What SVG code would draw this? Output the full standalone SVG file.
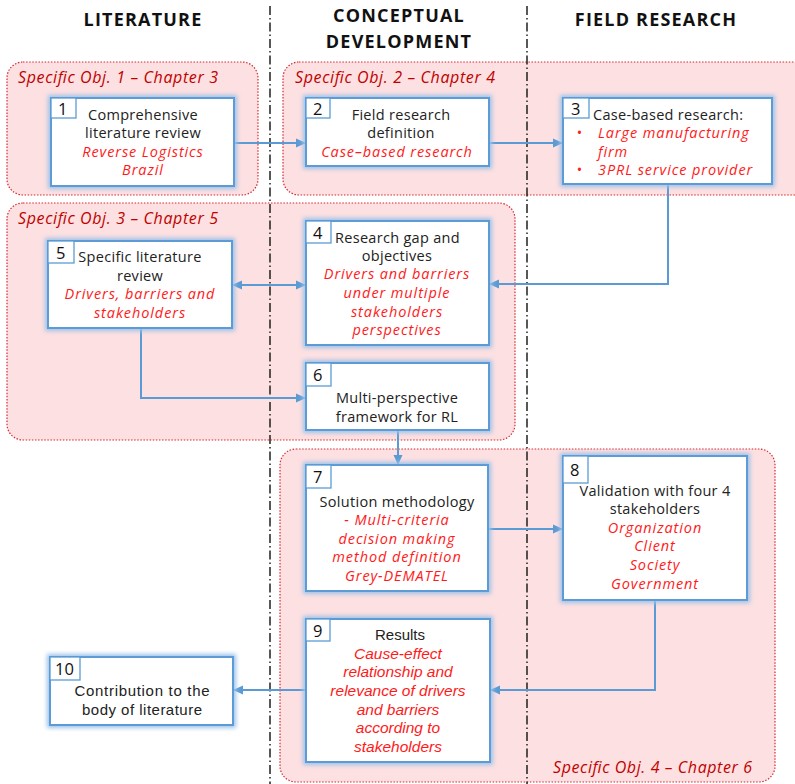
<svg xmlns="http://www.w3.org/2000/svg" width="795" height="784" viewBox="0 0 795 784">
  <style>
    .head { font-family: "Open Sans", "Noto Sans", sans-serif; font-weight: bold; font-size: 18px; letter-spacing: 1.2px; fill: #111; text-anchor: middle; }
    .zone { fill: #fde0e1; stroke: #d9272e; stroke-width: 1.2; stroke-dasharray: 1.5 1.6; }
    .zlabel { font-family: "Open Sans", "Noto Sans", sans-serif; font-style: italic; font-size: 16px; fill: #c00000; }
    .lane { stroke: #111; stroke-width: 1.4; stroke-dasharray: 9 3 1.5 3; fill: none; }
    .box { fill: #fff; stroke: #5b9bd5; stroke-width: 2; }
    .num { fill: #fff; stroke: #5b9bd5; stroke-width: 1.3; }
    .nt { font-family: "Open Sans", "Noto Sans", sans-serif; font-size: 16.5px; fill: #111; }
    .t { font-family: "Open Sans", "Noto Sans", sans-serif; font-size: 14.5px; letter-spacing: 0.3px; fill: #222; text-anchor: middle; }
    .r { font-family: "Open Sans", "Noto Sans", sans-serif; font-size: 14.5px; letter-spacing: 0.9px; font-style: italic; fill: #ff1a1a; text-anchor: middle; }
    .tn { font-family: "Liberation Sans", Arial, sans-serif; font-size: 15px; fill: #222; text-anchor: middle; }
    .rn { font-family: "Liberation Sans", Arial, sans-serif; font-size: 15.5px; font-style: italic; fill: #ff1a1a; text-anchor: middle; }
    .conn { fill: none; stroke: #5b9bd5; stroke-width: 2; }
  </style>
  <defs>
    <filter id="glow" x="-10%" y="-10%" width="120%" height="120%">
      <feMorphology in="SourceAlpha" operator="dilate" radius="2" result="d"/>
      <feGaussianBlur in="d" stdDeviation="2" result="b"/>
      <feFlood flood-color="#9cc3ea"/>
      <feComposite in2="b" operator="in" result="g"/>
      <feMerge><feMergeNode in="g"/><feMergeNode in="SourceGraphic"/></feMerge>
    </filter>
    <marker id="arr" viewBox="0 0 10 10" refX="9" refY="5" markerWidth="5.5" markerHeight="5" orient="auto-start-reverse">
      <path d="M0,0.5 L10,5 L0,9.5 z" fill="#5b9bd5"/>
    </marker>
  </defs>

  <!-- column headings -->
  <text class="head" x="143" y="26">LITERATURE</text>
  <text class="head" x="399" y="22">CONCEPTUAL</text>
  <text class="head" x="399" y="48">DEVELOPMENT</text>
  <text class="head" x="656" y="26">FIELD RESEARCH</text>

  <!-- objective zones -->
  <g id="zones">
    <rect class="zone" x="7" y="62" width="251" height="133" rx="16"/>
    <rect class="zone" x="283" y="62" width="530" height="133" rx="16"/>
    <rect class="zone" x="7" y="203" width="508" height="237" rx="16"/>
    <rect class="zone" x="280" y="449" width="495" height="333" rx="16"/>
    <text class="zlabel" x="18" y="83" textLength="200">Specific Obj. 1 – Chapter 3</text>
    <text class="zlabel" x="295" y="83" textLength="200">Specific Obj. 2 – Chapter 4</text>
    <text class="zlabel" x="18" y="224" textLength="200">Specific Obj. 3 – Chapter 5</text>
    <text class="zlabel" x="553" y="773" textLength="199">Specific Obj. 4 – Chapter 6</text>
  </g>

  <!-- lane separators -->
  <line class="lane" x1="270" y1="6" x2="270" y2="784"/>
  <line class="lane" x1="527" y1="6" x2="527" y2="784"/>

  <!-- connectors -->
  <g id="connectors">
    <path class="conn" d="M234,143 H305" marker-end="url(#arr)"/>
    <path class="conn" d="M489,143 H562" marker-end="url(#arr)"/>
    <path class="conn" d="M668,184 V284 H490" marker-end="url(#arr)"/>
    <path class="conn" d="M233,285 H305" marker-start="url(#arr)" marker-end="url(#arr)"/>
    <path class="conn" d="M141,328 V398 H305" marker-end="url(#arr)"/>
    <path class="conn" d="M398,430 V464" marker-end="url(#arr)"/>
    <path class="conn" d="M488,529 H562" marker-end="url(#arr)"/>
    <path class="conn" d="M655,600 V690 H491" marker-end="url(#arr)"/>
    <path class="conn" d="M306,690 H234" marker-end="url(#arr)"/>
  </g>

  <g id="n1">
    <rect class="box" x="51" y="98" width="183" height="88" filter="url(#glow)"/>
    <rect class="num" x="51" y="98" width="25" height="20"/>
    <text class="nt" x="58" y="115">1</text>
    <text class="t" x="143" y="120">Comprehensive</text>
    <text class="t" x="143" y="138">literature review</text>
    <text class="r" x="143" y="157">Reverse Logistics</text>
    <text class="r" x="143" y="175">Brazil</text>
  </g>

  <g id="n2">
    <rect class="box" x="306" y="98" width="183" height="68" filter="url(#glow)"/>
    <rect class="num" x="306" y="98" width="24" height="20"/>
    <text class="nt" x="313" y="115">2</text>
    <text class="t" x="401" y="120">Field research</text>
    <text class="t" x="401" y="138">definition</text>
    <text class="r" x="397" y="157">Case–based research</text>
  </g>

  <g id="n3">
    <rect class="box" x="563" y="98" width="209" height="86" filter="url(#glow)"/>
    <rect class="num" x="563" y="98" width="26" height="20"/>
    <text class="nt" x="571" y="115">3</text>
    <text class="t" x="593" y="120" style="text-anchor:start">Case-based research:</text>
    <text class="r" x="580" y="138" style="font-style:normal">•</text>
    <text class="r" x="598" y="138" style="text-anchor:start">Large manufacturing</text>
    <text class="r" x="598" y="157" style="text-anchor:start">firm</text>
    <text class="r" x="580" y="175" style="font-style:normal">•</text>
    <text class="r" x="598" y="175" style="text-anchor:start">3PRL service provider</text>
  </g>

  <g id="n4">
    <rect class="box" x="306" y="221" width="183" height="124" filter="url(#glow)"/>
    <rect class="num" x="306" y="221" width="25" height="22"/>
    <text class="nt" x="313" y="239">4</text>
    <text class="t" x="335" y="243" style="text-anchor:start">Research gap and</text>
    <text class="t" x="397" y="261">objectives</text>
    <text class="r" x="397" y="279">Drivers and barriers</text>
    <text class="r" x="397" y="298">under multiple</text>
    <text class="r" x="397" y="317">stakeholders</text>
    <text class="r" x="397" y="335">perspectives</text>
  </g>

  <g id="n5">
    <rect class="box" x="48" y="241" width="184" height="87" filter="url(#glow)"/>
    <rect class="num" x="48" y="241" width="26" height="22"/>
    <text class="nt" x="56" y="259">5</text>
    <text class="t" x="140" y="262">Specific literature</text>
    <text class="t" x="140" y="281">review</text>
    <text class="r" x="140" y="299">Drivers, barriers and</text>
    <text class="r" x="140" y="318">stakeholders</text>
  </g>

  <g id="n6">
    <rect class="box" x="306" y="363" width="183" height="67" filter="url(#glow)"/>
    <rect class="num" x="306" y="363" width="25" height="23"/>
    <text class="nt" x="313" y="381">6</text>
    <text class="t" x="397" y="403">Multi-perspective</text>
    <text class="t" x="397" y="422">framework for RL</text>
  </g>

  <g id="n7">
    <rect class="box" x="306" y="465" width="182" height="126" filter="url(#glow)"/>
    <rect class="num" x="306" y="465" width="25" height="23"/>
    <text class="nt" x="313" y="483">7</text>
    <text class="t" x="397" y="507">Solution methodology</text>
    <text class="r" x="397" y="525">- Multi-criteria</text>
    <text class="r" x="397" y="544">decision making</text>
    <text class="r" x="397" y="562">method definition</text>
    <text class="r" x="397" y="581">Grey-DEMATEL</text>
  </g>

  <g id="n8">
    <rect class="box" x="563" y="456" width="184" height="144" filter="url(#glow)"/>
    <rect class="num" x="563" y="456" width="25" height="27"/>
    <text class="nt" x="570" y="476">8</text>
    <text class="t" x="655" y="496">Validation with four 4</text>
    <text class="t" x="655" y="514">stakeholders</text>
    <text class="r" x="655" y="533">Organization</text>
    <text class="r" x="655" y="551">Client</text>
    <text class="r" x="655" y="570">Society</text>
    <text class="r" x="655" y="589">Government</text>
  </g>

  <g id="n9">
    <rect class="box" x="306" y="619" width="184" height="143" filter="url(#glow)"/>
    <rect class="num" x="306" y="619" width="24" height="22"/>
    <text class="nt" x="313" y="637">9</text>
    <text class="tn" x="400" y="640">Results</text>
    <text class="rn" x="398" y="659">Cause-effect</text>
    <text class="rn" x="398" y="677">relationship and</text>
    <text class="rn" x="398" y="696">relevance of drivers</text>
    <text class="rn" x="398" y="715">and barriers</text>
    <text class="rn" x="398" y="733">according to</text>
    <text class="rn" x="398" y="752">stakeholders</text>
  </g>

  <g id="n10">
    <rect class="box" x="50" y="657" width="183" height="68" filter="url(#glow)"/>
    <rect class="num" x="50" y="657" width="30" height="23"/>
    <text class="nt" x="55" y="675">10</text>
    <text class="tn" x="142" y="696" textLength="135">Contribution to the</text>
    <text class="tn" x="142" y="715" textLength="120">body of literature</text>
  </g>
</svg>
